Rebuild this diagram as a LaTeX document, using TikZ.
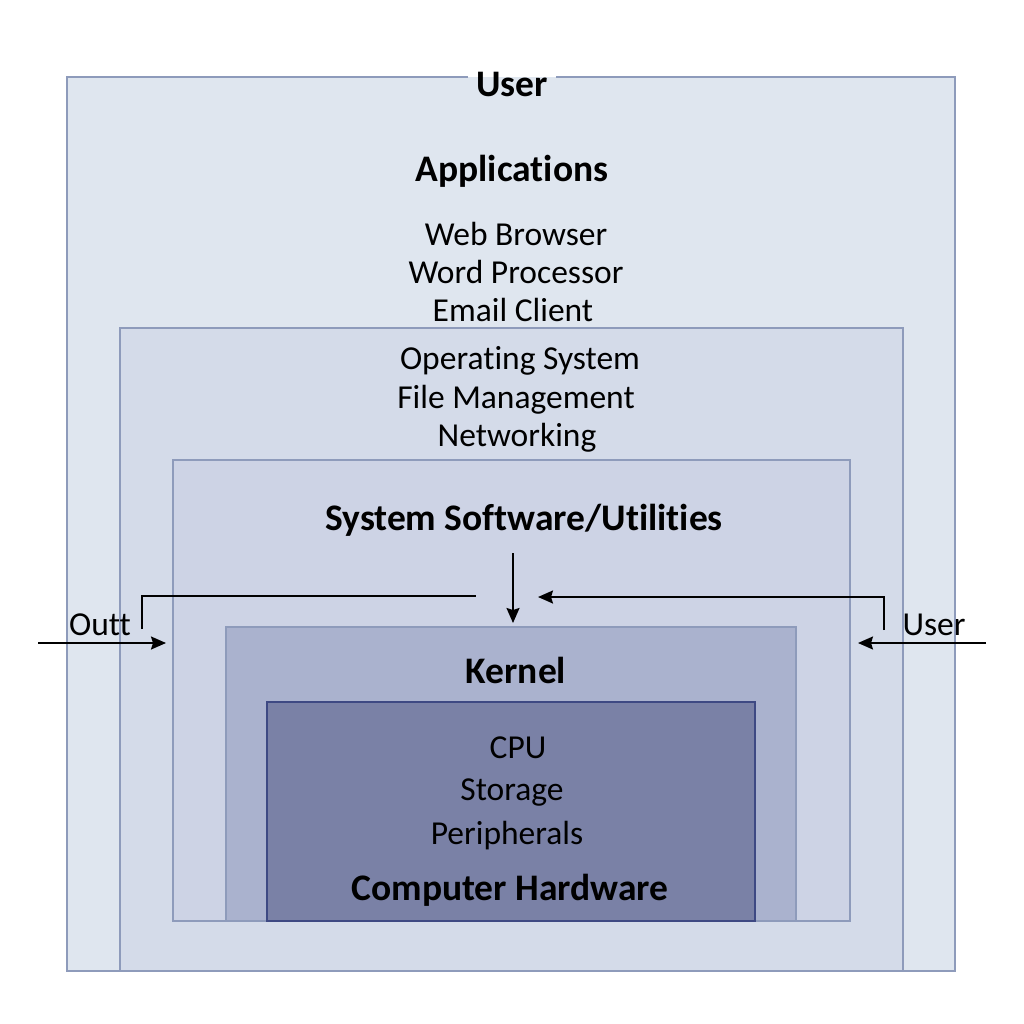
\documentclass[tikz,border=0pt]{standalone}
\usepackage{fontspec}
\setmainfont{Carlito}[RawFeature={-liga;-clig;-calt;-dlig}]
\usetikzlibrary{arrows.meta}
\definecolor{outerfill}{HTML}{DFE6EF}
\definecolor{osfill}{HTML}{D4DBE9}
\definecolor{sysfill}{HTML}{CDD3E5}
\definecolor{kernfill}{HTML}{AAB2CE}
\definecolor{hwfill}{HTML}{7A81A6}
\definecolor{boxline}{HTML}{8E9BBB}
\definecolor{hwline}{HTML}{3E4983}
\tikzset{
  layer/.style={draw=boxline, line width=1.6pt},
  reg/.style={font=\fontsize{33.5}{40}\selectfont, inner sep=0pt},
  bld/.style={font=\fontsize{37.5}{45}\selectfont\bfseries, inner sep=0pt},
  conn/.style={line width=1.9pt, black},
  arr/.style={conn, -{Stealth[length=15pt,width=13pt,inset=2pt]}}
}
\begin{document}
\begin{tikzpicture}[x=1pt,y=-1pt]
\useasboundingbox (0,0) rectangle (1024,1024);
\fill[white] (0,0) rectangle (1024,1024);
% outer User layer
\fill[outerfill] (67,77) rectangle (955,971);
\draw[draw=boxline, line width=1.6pt] (468,77) -- (67,77) -- (67,971) -- (955,971) -- (955,77) -- (556,77);
\node[bld] (user) at (512,84) {User};
% operating system layer
\draw[layer, fill=osfill] (120,328) rectangle (903,971);
% system software layer
\draw[layer, fill=sysfill] (173,460) rectangle (850,921);
% kernel
\draw[layer, fill=kernfill] (226,627) rectangle (796,921);
% hardware
\draw[draw=hwline, line width=1.6pt, fill=hwfill] (267,702) rectangle (755,921);

\node[bld] (apps) at (512,171) {Applications};
\node[reg] (web) at (516,234) {Web Browser};
\node[reg] (word) at (516,272) {Word Processor};
\node[reg] (mail) at (513,310) {Email Client};
\node[reg] (os) at (520,361) {Operating System};
\node[reg] (fm) at (516,400) {File Management};
\node[reg] (net) at (517,438) {Networking};
\node[bld] (sys) at (524,520) {System Software/Utilities};
\node[bld] (kern) at (516,670) {Kernel};
\node[reg] (cpu) at (518,748) {CPU};
\node[reg] (stor) at (512,793) {Storage};
\node[reg] (peri) at (507,836) {Peripherals};
\node[bld] (hw) at (510,890) {Computer Hardware};
\node[reg] (outt) at (100,625) {Outt};
\node[reg] (user2) at (934,625) {User};

% connectors
\coordinate (lin) at (38,643);
\coordinate (lend) at (166,643);
\coordinate (rin) at (986,643);
\coordinate (rend) at (858,643);
\coordinate (lelb0) at (142,629);
\coordinate (lelb1) at (476,596);
\coordinate (relb0) at (884,630);
\coordinate (relb1) at (538,597);
\coordinate (dtop) at (513,553);
\coordinate (dbot) at (513,623);

\draw[arr] (lin) -- (lend);
\draw[arr] (rin) -- (rend);
\draw[conn] (lelb0) |- (lelb1);
\draw[arr] (relb0) |- (relb1);
\draw[arr] (dtop) -- (dbot);
\end{tikzpicture}
\end{document}
